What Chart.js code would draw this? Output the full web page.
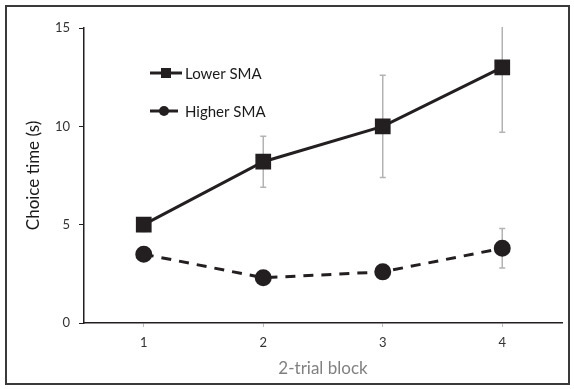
<!DOCTYPE html>
<html lang="en">
<head>
<meta charset="UTF-8">
<title>Choice time</title>
<script src="https://cdn.jsdelivr.net/npm/chart.js"></script>
<style>
  html, body { margin: 0; padding: 0; background: #fff; }
  #wrap { position: relative; width: 574px; height: 389px; }
  #frame { position: absolute; left: 5px; top: 5px; width: 561px; height: 376px; border: 2px solid #3a3a3a; pointer-events: none; }
</style>
</head>
<body>
<div id="wrap">
  <canvas id="myChart" width="574" height="389"></canvas>
  <div id="frame"></div>
</div>
<script>
  // data
  const blocks = ['1', '2', '3', '4'];
  const lowerSMA = [5.0, 8.2, 10.0, 13.0];
  const lowerErr = [0.35, 1.3, 2.6, 3.3];
  const higherSMA = [3.5, 2.3, 2.6, 3.8];
  const higherErr = [0.2, 0.2, 0.2, 1.0];
  const yTicks = [0, 5, 10, 15];

  const ink = '#231f20';
  const font = 'Lato, "Open Sans", sans-serif';

  // error bars drawn through the scales, clipped to the plot area
  const errorBars = {
    id: 'errorBars',
    beforeDatasetsDraw(chart) {
      const {ctx, chartArea, scales: {x, y}} = chart;
      const errs = [lowerErr, higherErr];
      ctx.save();
      ctx.beginPath();
      ctx.rect(chartArea.left, chartArea.top - 1, chartArea.right - chartArea.left, chartArea.bottom - chartArea.top + 1);
      ctx.clip();
      ctx.strokeStyle = '#b3b3b3';
      ctx.lineWidth = 1.5;
      chart.data.datasets.forEach((ds, i) => {
        ds.data.forEach((v, j) => {
          const px = x.getPixelForValue(j);
          const top = y.getPixelForValue(v + errs[i][j]);
          const bot = y.getPixelForValue(v - errs[i][j]);
          ctx.beginPath();
          ctx.moveTo(px, top); ctx.lineTo(px, bot);
          ctx.moveTo(px - 3, top); ctx.lineTo(px + 3, top);
          ctx.moveTo(px - 3, bot); ctx.lineTo(px + 3, bot);
          ctx.stroke();
        });
      });
      ctx.restore();
    }
  };

  // legend sitting inside the plot, top left
  const innerLegend = {
    id: 'innerLegend',
    afterDraw(chart) {
      const ctx = chart.ctx;
      const rows = [[150, 73, 182], [150, 111, 178]];
      chart.data.datasets.forEach((ds, i) => {
        const [x0, yy, x1] = rows[i];
        ctx.save();
        ctx.strokeStyle = ink;
        ctx.fillStyle = ink;
        ctx.lineWidth = 3;
        ctx.beginPath();
        ctx.moveTo(x0, yy); ctx.lineTo(x1, yy);
        ctx.stroke();
        const cx = (x0 + x1) / 2;
        if (i == 0) {
          ctx.fillRect(cx - 5, yy - 5, 10, 10);
        } else {
          ctx.beginPath();
          ctx.arc(cx, yy, 5, 0, Math.PI * 2);
          ctx.fill();
        }
        ctx.font = '15px ' + font;
        ctx.textBaseline = 'middle';
        ctx.fillStyle = '#1a1a1a';
        ctx.fillText(ds.label, 185, yy + 1);
        ctx.restore();
      });
    }
  };

  const ctx = document.getElementById('myChart');

  new Chart(ctx, {
    type: 'line',
    data: {
      labels: blocks,
      datasets: [{
        label: 'Lower SMA',
        data: lowerSMA,
        borderColor: ink,
        backgroundColor: ink,
        borderWidth: 3,
        pointStyle: 'rect',
        pointRadius: 9,
        pointHoverRadius: 9,
        tension: 0
      }, {
        label: 'Higher SMA',
        data: higherSMA,
        borderColor: ink,
        backgroundColor: ink,
        borderWidth: 3,
        borderDash: [10, 8],
        pointStyle: 'circle',
        pointRadius: 7,
        pointHoverRadius: 7,
        tension: 0
      }]
    },
    options: {
      responsive: false,
      animation: false,
      layout: { padding: { left: 0, top: 28, right: 8, bottom: 0 } },
      plugins: {
        legend: { display: false },
        tooltip: { enabled: false }
      },
      scales: {
        x: {
          offset: true,
          grid: { display: true, drawOnChartArea: false, offset: false, tickLength: 4, color: '#bdbdbd' },
          border: { color: ink, width: 1.5 },
          ticks: { color: '#333', padding: 8, font: { family: font, size: 13 } },
          title: { display: true, text: '2-trial block', color: '#808080', padding: { top: 4, bottom: 10 }, font: { family: font, size: 17 } },
          afterFit(scale) { scale.height = 66; }
        },
        y: {
          min: 0,
          max: 15,
          afterBuildTicks(scale) { scale.ticks = yTicks.map(v => ({ value: v })); },
          grid: { display: true, drawOnChartArea: false, tickLength: 5, color: ink },
          border: { color: ink, width: 1.5 },
          ticks: { color: '#333', padding: 9, font: { family: font, size: 13 } },
          title: { display: true, text: 'Choice time (s)', color: '#1a1a1a', padding: { top: 23, bottom: 0 }, font: { family: font, size: 17 } },
          afterFit(scale) { scale.width = 84; }
        }
      }
    },
    plugins: [errorBars, innerLegend]
  });
</script>
</body>
</html>
